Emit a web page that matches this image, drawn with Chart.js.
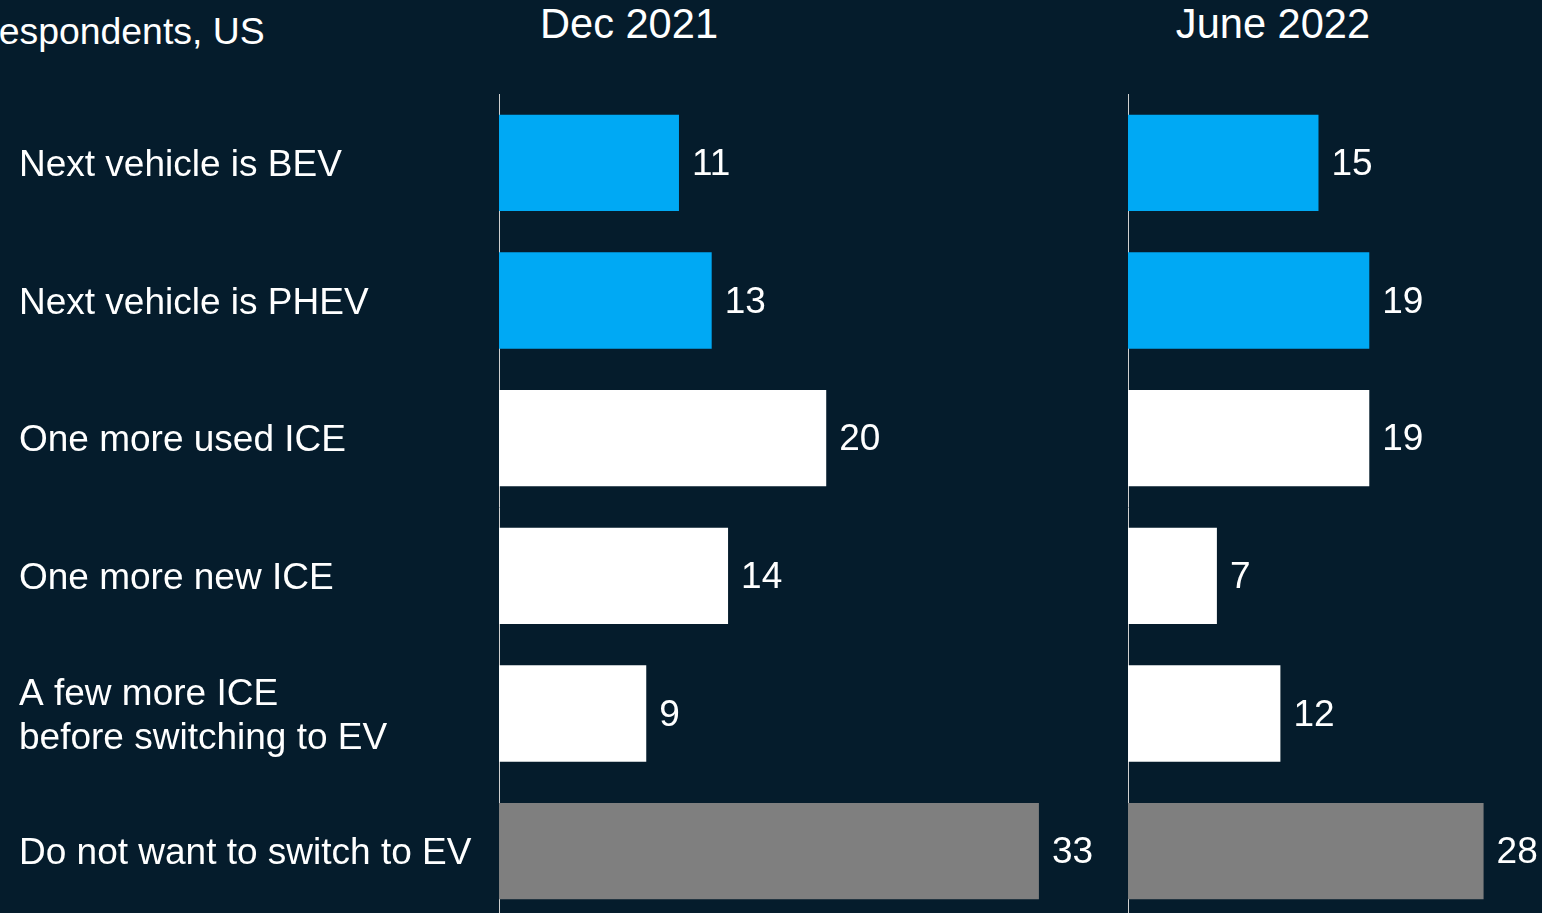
<!DOCTYPE html>
<html>
<head>
<meta charset="utf-8">
<script src="https://cdn.jsdelivr.net/npm/chart.js@4"></script>
<style>
  html, body { margin: 0; padding: 0; background: #051C2C; width: 1542px; height: 913px; overflow: hidden; }
  body { position: relative; font-family: Arial, "Liberation Sans", sans-serif; color: #fff; }
  .hdr { position: absolute; white-space: nowrap; line-height: 1; }
  #unit { left: -99px; top: 13px; font-size: 37.4px; }
  .period { top: 3px; font-size: 41.6px; transform: translateX(-50%); }
  #leftWrap { position: absolute; left: 0; top: 94px; }
  #rightWrap { position: absolute; left: 1127px; top: 94px; }
</style>
</head>
<body>
<div class="hdr" id="unit">% of respondents, US</div>
<div class="hdr period" style="left:629px">Dec 2021</div>
<div class="hdr period" style="left:1273px">June 2022</div>
<div id="leftWrap"><canvas id="chartDec" width="1106" height="826"></canvas></div>
<div id="rightWrap"><canvas id="chartJun" width="415" height="826"></canvas></div>
<script>
const categories = [
  'Next vehicle is BEV',
  'Next vehicle is PHEV',
  'One more used ICE',
  'One more new ICE',
  ['A few more ICE', 'before switching to EV'],
  'Do not want to switch to EV'
];
const dec2021 = [11, 13, 20, 14, 9, 33];
const jun2022 = [15, 19, 19, 7, 12, 28];

const barColors = ['#00A9F4', '#00A9F4', '#FFFFFF', '#FFFFFF', '#FFFFFF', '#7F7F7F'];
const fontFamily = 'Arial, "Liberation Sans", sans-serif';

// value labels at the end of each bar
const valueLabels = {
  id: 'valueLabels',
  afterDatasetsDraw(chart) {
    const ctx = chart.ctx;
    ctx.save();
    ctx.font = '37px ' + fontFamily;
    ctx.fillStyle = '#FFFFFF';
    ctx.textAlign = 'left';
    ctx.textBaseline = 'middle';
    chart.getDatasetMeta(0).data.forEach((bar, i) => {
      ctx.fillText(chart.data.datasets[0].data[i], bar.x + 13, bar.y + 2);
    });
    ctx.restore();
  }
};

function makeChart(id, values, xMax, showLabels) {
  return new Chart(document.getElementById(id), {
    type: 'bar',
    data: {
      labels: categories,
      datasets: [{
        data: values,
        backgroundColor: barColors,
        borderWidth: 0,
        barPercentage: 0.7,
        categoryPercentage: 1.0
      }]
    },
    options: {
      indexAxis: 'y',
      responsive: false,
      animation: false,
      layout: { padding: { left: showLabels ? 19 : 1, right: 0, top: 0, bottom: 0 } },
      plugins: { legend: { display: false }, tooltip: { enabled: false } },
      scales: {
        x: { display: false, min: 0, max: xMax },
        y: {
          grid: { display: false },
          border: { display: true, color: '#D0D0D0', width: 1 },
          ticks: {
            display: showLabels,
            color: '#FFFFFF',
            font: { family: fontFamily, size: 37, lineHeight: 1.2 },
            crossAlign: 'far',
            padding: 0,
            labelOffset: 3,
            autoSkip: false
          },
          afterFit(scale) {
            scale.width = showLabels ? 480 : 0;
            scale.paddingTop = 0;
            scale.paddingBottom = 0;
          }
        }
      }
    },
    plugins: [valueLabels]
  });
}

makeChart('chartDec', dec2021, 37.1, true);
makeChart('chartJun', jun2022, 32.6, false);
</script>
</body>
</html>
